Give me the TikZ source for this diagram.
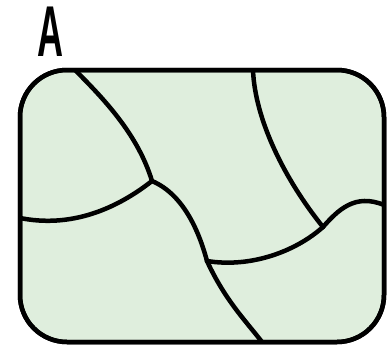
\documentclass[tikz,border=0pt]{standalone}
\usepackage{fontspec}
\setmainfont{Liberation Sans}
\definecolor{regionfill}{HTML}{DFEEDD}
\begin{document}
\begin{tikzpicture}[x=1pt,y=-1pt,
  border/.style={draw=black,line width=4.5pt,fill=regionfill,rounded corners=47pt},
  edge/.style={draw=black,line width=4.5pt,line cap=round,line join=round},
  lbl/.style={inner sep=0pt,font=\fontsize{72}{72}\selectfont\bfseries}]
\useasboundingbox (0,0) rectangle (388,346);
\draw[border] (20,70) rectangle (384,342);
\coordinate (t1) at (75,70);
\coordinate (t2) at (253,70);
\coordinate (l1) at (20,218);
\coordinate (r1) at (384,205);
\coordinate (b1) at (262,342);
\coordinate (j1) at (152,181);
\coordinate (j2) at (207,261);
\coordinate (j3) at (323,227);
\begin{scope}
\clip[rounded corners=47pt] (20,70) rectangle (384,342);
\draw[edge] (t1) .. controls (105,100) and (138,135) .. (j1);
\draw[edge] (l1) .. controls (70,228) and (115,210) .. (j1);
\draw[edge] (j1) .. controls (185,195) and (200,235) .. (j2);
\draw[edge] (j2) .. controls (225,300) and (245,320) .. (b1);
\draw[edge] (j2) .. controls (250,268) and (295,252) .. (j3);
\draw[edge] (j3) .. controls (338,210) and (355,193) .. (r1);
\draw[edge] (t2) .. controls (255,120) and (285,180) .. (j3);
\end{scope}
\draw[draw=black,line width=4.5pt,rounded corners=47pt] (20,70) rectangle (384,342);
\node[lbl] (A) at (50,32) {\scalebox{0.5}[1]{A}};
\end{tikzpicture}
\end{document}
